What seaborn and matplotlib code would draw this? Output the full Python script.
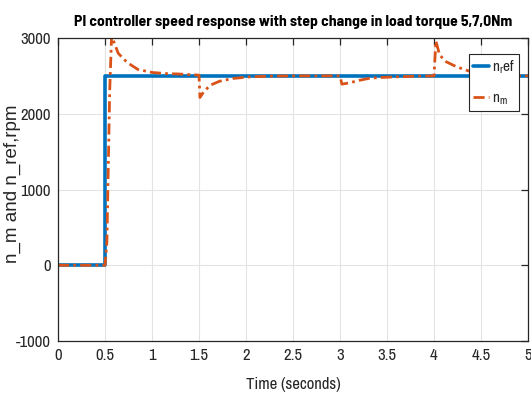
import matplotlib
matplotlib.use("Agg")
import matplotlib.pyplot as plt
import seaborn as sns
import pandas as pd

# ---- data ----
t_ref = [0.0, 0.5, 0.5, 5.0]
n_ref = [0, 0, 2500, 2500]

t_m = [0.0, 0.50, 0.52, 0.55, 0.57, 0.60, 0.64, 0.70, 0.75, 0.85, 1.00, 1.15, 1.28, 1.50,
       1.51, 1.55, 1.62, 1.72, 1.86, 2.04, 2.25, 2.50, 2.80, 3.00,
       3.02, 3.10, 3.20, 3.32, 3.45, 3.60, 3.80, 4.00,
       4.02, 4.06, 4.13, 4.24, 4.38, 4.50, 4.65, 4.80, 5.00]
n_m = [0, 0, 300, 2300, 3030, 2930, 2800, 2720, 2665, 2585, 2545, 2530, 2525, 2510,
       2215, 2290, 2377, 2430, 2466, 2487, 2496, 2500, 2500, 2500,
       2391, 2408, 2440, 2470, 2480, 2487, 2495, 2500,
       2960, 2775, 2686, 2620, 2560, 2535, 2515, 2505, 2500]

title_text = "PI controller speed response with step change in load torque 5,7,0Nm"
xlabel_text = "Time (seconds)"
ylabel_text = "n_m and n_ref,rpm"
xticks = [0, 0.5, 1, 1.5, 2, 2.5, 3, 3.5, 4, 4.5, 5]
xticklabels = ["0", "0.5", "1", "1.5", "2", "2.5", "3", "3.5", "4", "4.5", "5"]
yticks = [-1000, 0, 1000, 2000, 3000]
yticklabels = ["-1000", "0", "1000", "2000", "3000"]

sns.set_theme(style="white")
NARROW = ['Archivo Narrow', 'Liberation Sans', 'DejaVu Sans']
plt.rcParams['font.family'] = NARROW
plt.rcParams['mathtext.fontset'] = 'custom'
plt.rcParams['mathtext.rm'] = 'Archivo Narrow'
plt.rcParams['mathtext.it'] = 'Archivo Narrow'

fig = plt.figure(figsize=(5.31, 4.0), dpi=100)
ax = fig.add_axes([58/531, 1 - 341/400, 470/531, 303/400])

df_ref = pd.DataFrame({"t": t_ref, "v": n_ref})
df_m = pd.DataFrame({"t": t_m, "v": n_m})
blue = "#0072BD"
orange = "#D95319"
sns.lineplot(data=df_ref, x="t", y="v", ax=ax, color=blue, linewidth=2.6,
             label="n$_{r}$ef", sort=False, estimator=None)
sns.lineplot(data=df_m, x="t", y="v", ax=ax, color=orange, linewidth=2.0,
             linestyle=(0, (4, 1.5, 1, 1.5)), label="n$_{m}$", sort=False, estimator=None)

ax.set_xlim(0, 5)
ax.set_ylim(-1000, 3000)
ax.set_xticks(xticks)
ax.set_xticklabels(xticklabels)
ax.set_yticks(yticks)
ax.set_yticklabels(yticklabels)
ax.grid(True, color="#e3e3e3", linewidth=0.8)
ax.set_axisbelow(True)
for s in ax.spines.values():
    s.set_color("#262626")
    s.set_linewidth(0.9)
    s.set_visible(True)
ax.tick_params(axis="both", which="both", direction="in", length=5, width=0.9,
               top=True, right=True, labelsize=12, colors="#262626", pad=5)
for lab in ax.get_xticklabels() + ax.get_yticklabels():
    lab.set_color("#262626")

ax.set_xlabel(xlabel_text, fontsize=12, color="#262626", labelpad=10)
ax.set_ylabel(ylabel_text, fontsize=13.5, color="#262626", va="center",
              family=["Liberation Sans", "DejaVu Sans"])
ax.yaxis.set_label_coords(-0.096, 0.518)
ax.set_title(title_text, fontsize=11.3, fontweight="bold", color="black", pad=9,
             family=['Barlow Semi Condensed', 'Archivo Narrow', 'Liberation Sans', 'DejaVu Sans'])

leg = ax.legend(loc="upper right", bbox_to_anchor=(0.981, 0.947), borderaxespad=0,
                fontsize=11, frameon=True, fancybox=False, handlelength=1.05,
                handletextpad=0.15, labelspacing=1.0, borderpad=0.3)
leg.get_frame().set_edgecolor("#262626")
leg.get_frame().set_linewidth(0.8)
leg.get_frame().set_alpha(1)

fig.savefig("out.png", dpi=100)
